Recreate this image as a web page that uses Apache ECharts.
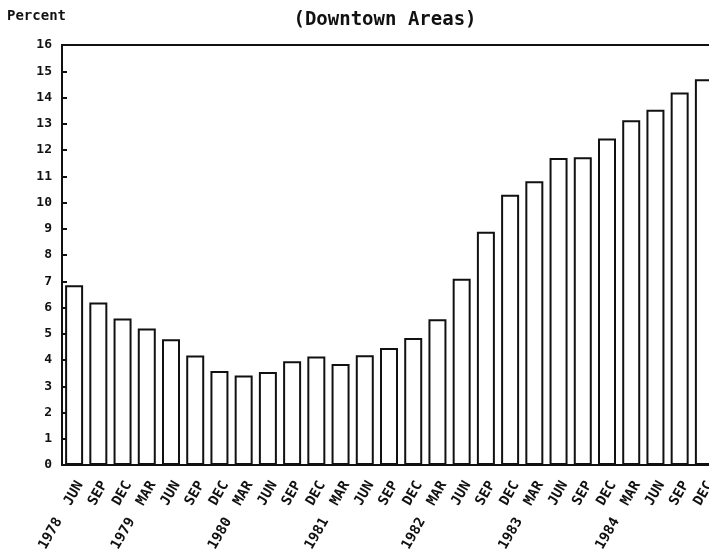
<!DOCTYPE html>
<html>
<head>
<meta charset="utf-8">
<script src="https://cdn.jsdelivr.net/npm/echarts@6/dist/echarts.min.js"></script>
<style>html,body{margin:0;padding:0;background:#fff}#c{width:709px;height:552px}</style>
</head>
<body>
<div id="c"></div>
<script>
const categories = ["1978  JUN","SEP","DEC","1979  MAR","JUN","SEP","DEC","1980  MAR","JUN","SEP","DEC","1981  MAR","JUN","SEP","DEC","1982  MAR","JUN","SEP","DEC","1983  MAR","JUN","SEP","DEC","1984  MAR","JUN","SEP","DEC"];
const values = [6.85,6.19,5.58,5.2,4.79,4.17,3.58,3.41,3.54,3.95,4.13,3.85,4.18,4.46,4.84,5.55,7.1,8.89,10.3,10.81,11.7,11.72,12.44,13.13,13.53,14.19,14.7];
const yTicks = [0,1,2,3,4,5,6,7,8,9,10,11,12,13,14,15,16];
const titleText = "(Downtown Areas)";
const yAxisName = "Percent";

const FONT = "DejaVu Sans Mono";
const chart = echarts.init(document.getElementById('c'));
chart.setOption({
  animation: false,
  backgroundColor: '#fff',
  title: {
    text: titleText, left: 380, top: 6, textAlign: 'center',
    textStyle: {fontFamily: FONT, fontWeight: 'bold', fontSize: 19, color: '#111'}
  },
  graphic: [{
    type: 'text', left: 7, top: 9,
    style: {text: yAxisName, font: 'bold 14px "DejaVu Sans Mono"', fill: '#111'}
  }],
  grid: {left: 62, width: 654, top: 45, height: 420, outerBoundsMode: 'none', containLabel: false},
  xAxis: [{
    type: 'category', data: categories, boundaryGap: true,
    axisLine: {lineStyle: {color: '#111', width: 2}},
    axisTick: {show: false},
    axisLabel: {rotate: 60, interval: 0, fontFamily: FONT, fontWeight: 'bold', fontSize: 14, color: '#111', margin: 14, verticalAlign: 'top'}
  }, {
    type: 'category', data: categories, position: 'top',
    axisLine: {lineStyle: {color: '#111', width: 2}},
    axisTick: {show: false}, axisLabel: {show: false}
  }],
  yAxis: {
    type: 'value', min: yTicks[0], max: yTicks[yTicks.length - 1], interval: 1,
    axisLine: {show: true, lineStyle: {color: '#111', width: 2}},
    axisTick: {show: true, inside: true, length: 5, lineStyle: {color: '#111', width: 2}},
    splitLine: {show: false},
    axisLabel: {fontFamily: FONT, fontWeight: 'bold', fontSize: 13, color: '#111', margin: 10}
  },
  series: [{
    type: 'bar', data: values, barWidth: 18,
    itemStyle: {color: '#fff', borderColor: '#111', borderWidth: 2}
  }]
});
</script>
</body>
</html>
